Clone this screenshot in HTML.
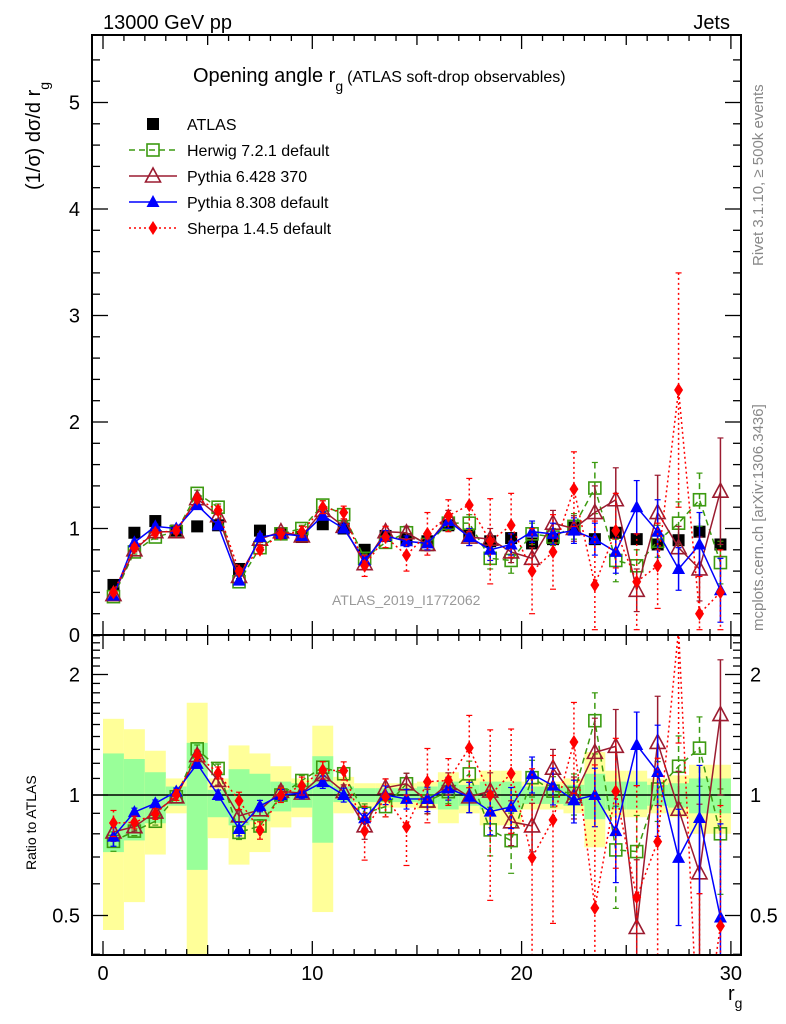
<!DOCTYPE html>
<html><head><meta charset="utf-8"><style>
html,body{margin:0;background:#fff;overflow:hidden;width:786px;height:1024px}
svg{display:block;font-family:"Liberation Sans",sans-serif}
</style></head><body>
<svg id="c" width="786" height="1024" viewBox="0 0 786 1024" xmlns="http://www.w3.org/2000/svg">
<defs>
<clipPath id="cm"><rect x="92" y="35" width="649" height="600"/></clipPath>
<clipPath id="cr"><rect x="92" y="635" width="649" height="320"/></clipPath>
</defs>
<g id="bands" clip-path="url(#cr)"></g>
<g id="grid"></g>
<g id="main" clip-path="url(#cm)"></g>
<g id="ratio" clip-path="url(#cr)"></g>
<rect x="92" y="35" width="649" height="600" fill="none" stroke="#000" stroke-width="2"/>
<rect x="92" y="635" width="649" height="320" fill="none" stroke="#000" stroke-width="2"/>
<text x="103" y="29" font-size="20">13000 GeV pp</text>
<text x="730" y="29" font-size="20" text-anchor="end">Jets</text>
<text x="193" y="82" font-size="20">Opening angle r<tspan font-size="14" dy="9">g</tspan><tspan font-size="16" dy="-9" dx="4">(ATLAS soft-drop observables)</tspan></text>
<text transform="translate(40,190) rotate(-90)" font-size="20">(1/σ) dσ/d r<tspan font-size="14" dy="9">g</tspan></text>
<text transform="translate(36,870) rotate(-90)" font-size="14">Ratio to ATLAS</text>
<text x="728" y="1000" font-size="20">r<tspan font-size="14" dy="8">g</tspan></text>
<text transform="translate(763,266) rotate(-90)" font-size="15" fill="#888">Rivet 3.1.10, ≥ 500k events</text>
<text transform="translate(763,631) rotate(-90)" font-size="15" fill="#888">mcplots.cern.ch [arXiv:1306.3436]</text>
<text x="332" y="605" font-size="14" fill="#999">ATLAS_2019_I1772062</text>
<g id="legend"></g>
</svg>
<script>
const bins=[0.5,1.5,2.5,3.5,4.5,5.5,6.5,7.5,8.5,9.5,10.5,11.5,12.5,13.5,14.5,15.5,16.5,17.5,18.5,19.5,20.5,21.5,22.5,23.5,24.5,25.5,26.5,27.5,28.5,29.5];
const atlas=[0.47,0.96,1.07,0.98,1.02,1.03,0.62,0.98,0.95,0.92,1.04,1.00,0.80,0.93,0.90,0.88,1.03,0.93,0.88,0.91,0.86,0.90,1.01,0.90,0.96,0.90,0.85,0.89,0.97,0.85];
const herwig=[0.36,0.78,0.92,0.97,1.33,1.2,0.50,0.82,0.95,1.0,1.22,1.13,0.72,0.87,0.96,0.85,1.05,1.05,0.72,0.70,0.95,0.92,1.02,1.38,0.70,0.65,0.88,1.05,1.27,0.68];
const herwigErr=[0.02,0.02,0.02,0.02,0.03,0.03,0.02,0.03,0.03,0.03,0.04,0.04,0.04,0.05,0.06,0.06,0.07,0.08,0.1,0.12,0.1,0.08,0.12,0.24,0.2,0.15,0.15,0.2,0.25,0.2];
const pythia6=[0.38,0.80,0.97,0.97,1.28,1.12,0.55,0.90,0.97,0.93,1.17,1.02,0.67,0.97,0.96,0.85,1.10,0.92,0.90,0.78,0.72,1.05,1.0,1.15,1.27,0.42,1.15,0.82,0.62,1.35];
const pythia6Err=[0.02,0.02,0.02,0.02,0.03,0.03,0.02,0.03,0.03,0.03,0.04,0.04,0.05,0.05,0.06,0.06,0.07,0.08,0.1,0.1,0.1,0.12,0.12,0.25,0.3,0.2,0.35,0.2,0.3,0.5];
const pythia8=[0.37,0.87,1.02,1.0,1.22,1.03,0.51,0.92,0.95,0.93,1.12,1.00,0.70,0.93,0.88,0.86,1.07,0.92,0.80,0.85,0.97,0.95,0.98,0.90,0.78,1.20,0.97,0.62,0.85,0.42];
const pythia8Err=[0.02,0.02,0.02,0.02,0.03,0.03,0.02,0.03,0.03,0.03,0.04,0.04,0.04,0.05,0.05,0.06,0.07,0.08,0.1,0.1,0.1,0.1,0.12,0.15,0.2,0.25,0.3,0.2,0.3,0.3];
const sherpa=[0.40,0.82,0.96,0.98,1.28,1.17,0.60,0.80,0.95,0.97,1.20,1.15,0.65,0.92,0.75,0.95,1.12,1.22,0.88,1.03,0.60,0.78,1.37,0.47,0.98,0.50,0.65,2.30,0.20,0.40];
const sherpaErr=[0.03,0.03,0.03,0.03,0.04,0.04,0.03,0.04,0.04,0.05,0.06,0.06,0.1,0.1,0.15,0.2,0.15,0.25,0.4,0.3,0.4,0.35,0.35,0.6,0.35,0.45,0.4,1.1,0.35,0.4];
const yelUp=[1.55,1.46,1.29,1.10,1.70,1.10,1.33,1.27,1.18,1.10,1.49,1.11,1.07,1.07,1.07,1.08,1.14,1.10,1.15,1.15,1.08,1.08,1.10,1.28,1.15,1.15,1.10,1.12,1.19,1.19];
const yelDn=[0.46,0.54,0.71,0.90,0.30,0.78,0.67,0.72,0.83,0.88,0.51,0.90,0.93,0.93,0.93,0.92,0.85,0.90,0.84,0.84,0.92,0.92,0.90,0.74,0.88,0.88,0.90,0.88,0.80,0.80];
const grnUp=[1.27,1.23,1.14,1.05,1.35,1.03,1.16,1.13,1.08,1.07,1.25,1.05,1.04,1.04,1.04,1.05,1.08,1.06,1.08,1.08,1.05,1.05,1.06,1.13,1.08,1.08,1.06,1.07,1.10,1.10];
const grnDn=[0.72,0.77,0.85,0.94,0.65,0.88,0.84,0.86,0.91,0.93,0.76,0.96,0.96,0.96,0.96,0.95,0.92,0.94,0.92,0.92,0.95,0.95,0.94,0.87,0.92,0.92,0.94,0.93,0.90,0.90];
const xTicks=[0,10,20,30];
const yTicks=[0,1,2,3,4,5];
const rTicks=[0.5,1,2];

const NS="http://www.w3.org/2000/svg";
const X=v=>103+v*20.93;
const Ym=v=>635-v*106.5;
const Yr=r=>795-Math.log2(r)*120.5;
function mk(tag,attrs,parent){const e=document.createElementNS(NS,tag);for(const k in attrs)e.setAttribute(k,attrs[k]);parent.appendChild(e);return e;}
const G=id=>document.getElementById(id);

bins.forEach((b,i)=>{
  let r=mk('rect',{x:X(b-0.5),y:Yr(yelUp[i]),width:20.93,height:Yr(yelDn[i])-Yr(yelUp[i]),fill:'#ffff99'},G('bands'));
  
  
  let g=mk('rect',{x:X(b-0.5),y:Yr(grnUp[i]),width:20.93,height:Yr(grnDn[i])-Yr(grnUp[i]),fill:'#99ff99'},G('bands'));
  
  
});
const gr=G('grid');
for(let v=0;v<=30;v++){
  const L=v%10==0?14:(v%5==0?10:6);
  [[955,-1],[635,-1],[635,1],[35,1]].forEach(([y,d])=>mk('line',{x1:X(v),x2:X(v),y1:y,y2:y+d*L,stroke:'#000','stroke-width':1.3},gr));
}
xTicks.forEach(v=>{let t=mk('text',{x:X(v),y:980,'font-size':20,'text-anchor':'middle'},gr);t.textContent=v;
  
  });
for(let v=0;v<=5.6;v+=0.2){const maj=Math.abs(v-Math.round(v))<0.01;const L=maj?16:8;
  mk('line',{x1:92,x2:92+L,y1:Ym(v),y2:Ym(v),stroke:'#000','stroke-width':1.3},gr);
  mk('line',{x1:741,x2:741-L,y1:Ym(v),y2:Ym(v),stroke:'#000','stroke-width':1.3},gr);}
yTicks.forEach(v=>{let t=mk('text',{x:80,y:Ym(v)+7,'font-size':20,'text-anchor':'end'},gr);t.textContent=v;
  
  });
[0.4,0.5,0.6,0.7,0.8,0.9,1,1.1,1.2,1.3,1.4,1.5,1.6,1.7,1.8,1.9,2,2.1,2.2,2.3,2.4,2.5].forEach(r=>{
  const maj=rTicks.includes(r);const L=maj?16:8;
  mk('line',{x1:92,x2:92+L,y1:Yr(r),y2:Yr(r),stroke:'#000','stroke-width':1.3},gr);
  mk('line',{x1:741,x2:741-L,y1:Yr(r),y2:Yr(r),stroke:'#000','stroke-width':1.3},gr);});
rTicks.forEach(r=>{
  let t=mk('text',{x:80,y:Yr(r)+7,'font-size':20,'text-anchor':'end'},gr);t.textContent=r;
  
  
  let t2=mk('text',{x:750,y:Yr(r)+7,'font-size':20},gr);t2.textContent=r;
  
  });
mk('line',{x1:92,x2:741,y1:Yr(1),y2:Yr(1),stroke:'#000','stroke-width':1.5},G('ratio'));

function marker(p,kind,x,y,col){
  if(kind=='sq') return mk('rect',{x:x-6,y:y-6,width:12,height:12,fill:'#000'},p);
  if(kind=='osq') return mk('rect',{x:x-6,y:y-6,width:12,height:12,fill:'#fff','fill-opacity':0,stroke:col,'stroke-width':1.6},p);
  if(kind=='otri') return mk('polygon',{points:`${x},${y-8} ${x-7.5},${y+6} ${x+7.5},${y+6}`,fill:'none',stroke:col,'stroke-width':1.6},p);
  if(kind=='tri') return mk('polygon',{points:`${x},${y-7} ${x-6.5},${y+5} ${x+6.5},${y+5}`,fill:col},p);
  if(kind=='dia') return mk('polygon',{points:`${x},${y-7} ${x-4.5},${y} ${x},${y+7} ${x+4.5},${y}`,fill:col},p);
}
const series=[
 {name:'herwig',vals:herwig,err:herwigErr,col:'#3c9a10',kind:'osq',dash:'6,4'},
 {name:'pythia6',vals:pythia6,err:pythia6Err,col:'#9b1b30',kind:'otri',dash:''},
 {name:'pythia8',vals:pythia8,err:pythia8Err,col:'#0000ff',kind:'tri',dash:''},
 {name:'sherpa',vals:sherpa,err:sherpaErr,col:'#ff0000',kind:'dia',dash:'2,3'}];
function drawSeries(par,s,Yf,ratio){
  const g=mk('g',{},par);
  
  
  const val=i=>ratio?s.vals[i]/atlas[i]:s.vals[i];
  const er=i=>ratio?s.err[i]/atlas[i]:s.err[i];
  const pts=bins.map((b,i)=>X(b)+','+Yf(val(i))).join(' ');
  const pl=mk('polyline',{points:pts,fill:'none',stroke:s.col,'stroke-width':1.5,'stroke-dasharray':s.dash},g);
  
  
  bins.forEach((b,i)=>{
    const lo=Math.max(val(i)-er(i),0.05);
    mk('line',{x1:X(b),x2:X(b),y1:Yf(val(i)+er(i)),y2:Yf(lo),stroke:s.col,'stroke-width':1.5,'stroke-dasharray':s.dash},g);
    mk('line',{x1:X(b)-3,x2:X(b)+3,y1:Yf(val(i)+er(i)),y2:Yf(val(i)+er(i)),stroke:s.col,'stroke-width':1.2},g);
    mk('line',{x1:X(b)-3,x2:X(b)+3,y1:Yf(lo),y2:Yf(lo),stroke:s.col,'stroke-width':1.2},g);
    const m=marker(g,s.kind,X(b),Yf(val(i)),s.col);
    
    
  });
}
const ga=mk('g',{},G('main'));


bins.forEach((b,i)=>{const m=marker(ga,'sq',X(b),Ym(atlas[i]));
  
  });
series.forEach(s=>drawSeries(G('main'),s,Ym,false));
series.forEach(s=>drawSeries(G('ratio'),s,Yr,true));

const lg=G('legend');
const entries=[['ATLAS','sq','#000',null],['Herwig 7.2.1 default','osq','#3c9a10','6,4'],['Pythia 6.428 370','otri','#9b1b30',''],['Pythia 8.308 default','tri','#0000ff',''],['Sherpa 1.4.5 default','dia','#ff0000','2,3']];
entries.forEach((e,k)=>{
  const y=124+k*26;
  const g=mk('g',{},lg);
  
  
  if(e[3]!==null) mk('line',{x1:129,x2:177,y1:y,y2:y,stroke:e[2],'stroke-width':1.5,'stroke-dasharray':e[3]},g);
  marker(g,e[1],153,y,e[2]);
  const t=mk('text',{x:187,y:y+6,'font-size':16},g);t.textContent=e[0];
});
</script>
</body></html>
